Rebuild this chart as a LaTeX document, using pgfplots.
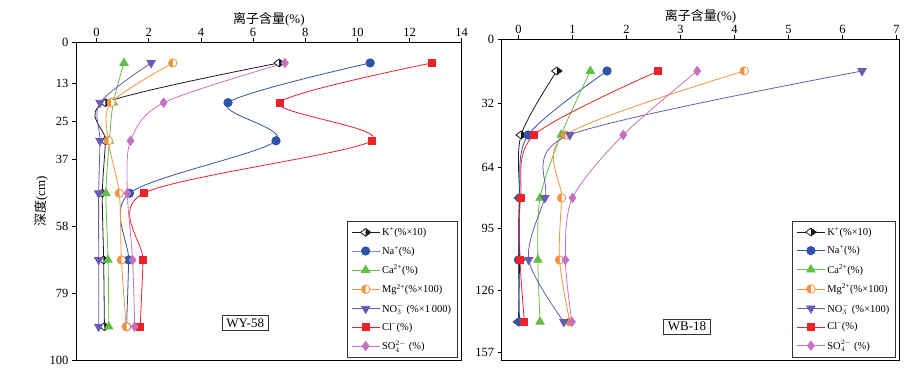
\documentclass[border=0pt]{standalone}
\usepackage{fontspec}
\setmainfont{Liberation Serif}
\newfontfamily\cjk{Noto Sans CJK SC}
\usepackage{pgfplots}
\pgfplotsset{compat=1.18}
\usetikzlibrary{plotmarks}

\definecolor{cK}{HTML}{1A1A1A}
\definecolor{cNa}{HTML}{2E55AA}
\definecolor{cCa}{HTML}{63BE45}
\definecolor{cMg}{HTML}{F5923E}
\definecolor{cNO}{HTML}{6A5CB6}
\definecolor{cCl}{HTML}{EC2229}
\definecolor{cSO}{HTML}{C672C2}

\pgfplotsset{
  profile/.style={
    scale only axis,
    y dir=reverse,
    axis line style={line width=0.8pt},
    xticklabel pos=right,
    xtick pos=right,
    ytick pos=left,
    tick align=outside,
    major tick length=4pt,
    tick style={line width=0.8pt, black},
    /pgf/number format/assume math mode=true,
    tick label style={font=\fontsize{12.5}{14}\selectfont},
    xticklabel style={yshift=-2pt},
    xlabel={{\cjk 离子含量}(\%)},
    xlabel style={font=\fontsize{13}{15}\selectfont, yshift=-5pt},
    legend cell align=left,
    legend style={font=\fontsize{10.5}{12}\selectfont, draw=black!80, line width=0.9pt,
      row sep=5pt, inner xsep=4pt, inner ysep=4pt},
    legend image code/.code={
      \draw[mark repeat=2, mark phase=2] plot coordinates {(0pt,0pt) (14pt,0pt) (28pt,0pt)};},
    every axis plot/.append style={line width=0.8pt, smooth, tension=0.5},
    clip=false,
  },
  sK/.style={color=cK, mark=halfdiamond*, mark size=5.2pt,
    mark options={solid, draw=cK, fill=white, mark color=cK, rotate=-90}},
  sNa/.style={color=cNa, mark=*, mark size=4.2pt, mark options={fill=cNa}},
  sCa/.style={color=cCa, mark=triangle*, mark size=4.8pt, mark options={fill=cCa}},
  sMg/.style={color=cMg, mark=halfcircle*, mark size=4.2pt,
    mark options={draw=cMg, fill=white, mark color=cMg, rotate=-90}},
  sNO/.style={color=cNO, mark=triangle*, mark size=4.8pt, mark options={fill=cNO, rotate=180}},
  sCl/.style={color=cCl, mark=square*, mark size=3.5pt, mark options={fill=cCl}},
  sSO/.style={color=cSO, mark=diamond*, mark size=4.6pt, mark options={fill=cSO}},
}

\begin{document}
\begin{tikzpicture}
\useasboundingbox (0,0) rectangle (916pt,368pt);

% WY-58
\begin{axis}[profile,
  at={(76pt,8pt)}, anchor=south west,
  width=385.7pt, height=317.7pt,
  xmin=-0.79, xmax=14, ymin=0, ymax=100,
  xtick={0,2,...,14},
  ytick={0,13,25,37,58,79,100},
  ylabel={{\cjk 深度}(cm)},
  ylabel style={font=\fontsize{13}{15}\selectfont, yshift=-5pt},
  legend style={at={(0.989,0.007)}, anchor=south east},
]
\addplot[sK] coordinates {(7.00,6.5) (0.34,19) (0.34,31) (0.22,47.5) (0.27,68.5) (0.30,89.5)};
\addlegendentry{K\textsuperscript{+}(\%×10)}
\addplot[sNa] coordinates {(10.49,6.5) (5.04,19) (6.88,31) (1.26,47.5) (1.23,68.5) (1.15,89.5)};
\addlegendentry{Na\textsuperscript{+}(\%)}
\addplot[sCa] coordinates {(1.05,6.5) (0.64,19) (0.49,31) (0.36,47.5) (0.44,68.5) (0.47,89.5)};
\addlegendentry{Ca\textsuperscript{2+}(\%)}
\addplot[sMg] coordinates {(2.92,6.5) (0.56,19) (0.45,31) (0.87,47.5) (0.95,68.5) (1.14,89.5)};
\addlegendentry{Mg\textsuperscript{2+}(\%×100)}
\addplot[sNO] coordinates {(2.09,6.5) (0.13,19) (0.13,31) (0.08,47.5) (0.08,68.5) (0.08,89.5)};
\addlegendentry{NO$_3^-$ (\%×1\,000)}
\addplot[sCl] coordinates {(12.86,6.5) (7.02,19) (10.55,31) (1.81,47.5) (1.78,68.5) (1.67,89.5)};
\addlegendentry{Cl\textsuperscript{−}(\%)}
\addplot[sSO] coordinates {(7.22,6.5) (2.57,19) (1.30,31) (1.18,47.5) (1.38,68.5) (1.46,89.5)};
\addlegendentry{SO$_4^{2-}$ (\%)}
\node[draw=black!80, line width=0.9pt, fill=white, font=\fontsize{13}{15}\selectfont,
  inner xsep=4pt, inner ysep=3pt] at (axis cs:5.7,88.4) {WY-58};
\end{axis}

% WB-18
\begin{axis}[profile,
  at={(501.7pt,8pt)}, anchor=south west,
  width=397.6pt, height=321pt,
  xmin=-0.31, xmax=7.05, ymin=0, ymax=160.6,
  xtick={0,1,...,7},
  ytick={0,32,64,95,126,157},
  legend style={at={(0.991,0.008)}, anchor=south east},
]
\addplot[sK] coordinates {(0.71,16) (0.05,48) (0.02,79.5) (0.02,110.5) (0.00,141.5)};
\addlegendentry{K\textsuperscript{+}(\%×10)}
\addplot[sNa] coordinates {(1.64,16) (0.18,48) (0.02,79.5) (0.00,110.5) (0.02,141.5)};
\addlegendentry{Na\textsuperscript{+}(\%)}
\addplot[sCa] coordinates {(1.33,16) (0.79,48) (0.40,79.5) (0.36,110.5) (0.40,141.5)};
\addlegendentry{Ca\textsuperscript{2+}(\%)}
\addplot[sMg] coordinates {(4.18,16) (0.87,48) (0.80,79.5) (0.76,110.5) (0.95,141.5)};
\addlegendentry{Mg\textsuperscript{2+}(\%×100)}
\addplot[sNO] coordinates {(6.36,16) (0.95,48) (0.49,79.5) (0.19,110.5) (0.84,141.5)};
\addlegendentry{NO$_3^-$ (\%×100)}
\addplot[sCl] coordinates {(2.59,16) (0.29,48) (0.04,79.5) (0.03,110.5) (0.11,141.5)};
\addlegendentry{Cl\textsuperscript{−}(\%)}
\addplot[sSO] coordinates {(3.31,16) (1.94,48) (1.00,79.5) (0.87,110.5) (0.99,141.5)};
\addlegendentry{SO$_4^{2-}$ (\%)}
\node[draw=black!80, line width=0.9pt, fill=white, font=\fontsize{13}{15}\selectfont,
  inner xsep=4pt, inner ysep=3pt] at (axis cs:3.12,143.9) {WB-18};
\end{axis}
\end{tikzpicture}
\end{document}
